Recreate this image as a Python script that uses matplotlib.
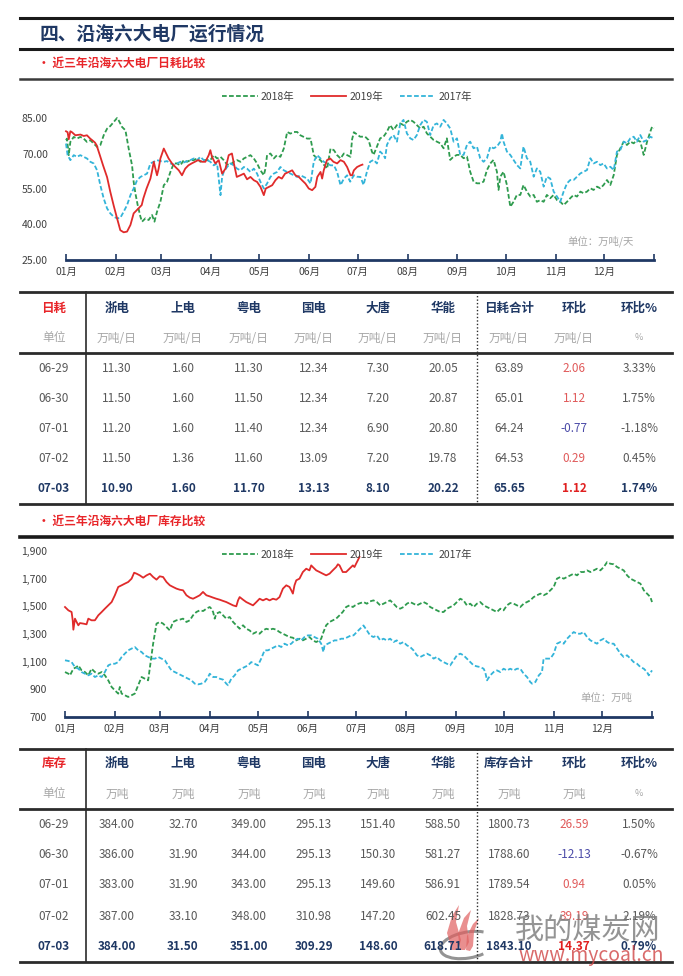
import matplotlib
matplotlib.use('Agg')
import matplotlib.pyplot as plt
from matplotlib.lines import Line2D
from matplotlib.patches import Arc, Polygon
from matplotlib.ticker import FuncFormatter

plt.rcParams['font.family'] = ['Noto Sans CJK SC', 'DejaVu Sans']

# ---------------- data ----------------
months = ['01月', '02月', '03月', '04月', '05月', '06月',
          '07月', '08月', '09月', '10月', '11月', '12月']
month_start = [0, 31, 59, 90, 120, 151, 181, 212, 243, 273, 304, 334]

# daily burn (万吨/天), (day of year, value)
burn_2019 = [(0, 79.4), (1, 79), (1.7, 76), (2.7, 79.4), (3.7, 79), (5.8, 77.7), (9, 78), (11, 77.4),
             (13, 77.7), (15, 76.3), (17, 75.2), (18, 74.6), (19, 73.5), (21, 69.3), (23, 65), (25.5, 60),
             (27.5, 53.8), (29.6, 48), (31.7, 42.6), (33.7, 37.6), (35.8, 36.7), (37.9, 37), (40, 39.8),
             (42, 44.7), (43, 45.4), (45, 46.8), (47, 48.2), (48, 51), (50, 55.2), (52.4, 59.4), (53.5, 62.9),
             (54.5, 66.5), (55.5, 63.6), (56.5, 60.8), (57.5, 63.6), (58.6, 67.9), (60.7, 72.1), (61.7, 70.7),
             (63.7, 67.9), (65.8, 65.8), (67.9, 64.3), (70, 62.9), (72, 60.8), (74, 63.6), (76, 65),
             (78, 65.8), (80, 66.5), (82, 67.2), (84.5, 66.5), (86.5, 66.5), (88.6, 69.3), (89.6, 71.4),
             (90.6, 68.6), (92.7, 65.8), (94.8, 67.2), (96.9, 61.5), (99, 63.6), (101, 69.3), (103, 70),
             (104, 66.5), (106, 60.1), (108.3, 60.8), (110.4, 61.5), (112.4, 59.1), (114.5, 60.1),
             (116.6, 58.7), (118.6, 58), (120.7, 55.9), (122.8, 52.4), (124, 55.2), (126, 55.9), (128, 56.6),
             (130, 58.7), (132, 60.1), (134, 59.4), (136, 61.5), (138.3, 62.2), (140.4, 62.9), (142.4, 60.8),
             (144.5, 60.1), (146.5, 58.7), (148.6, 57.3), (150.7, 55.2), (152.8, 54.5), (154.8, 55.9),
             (156, 60.1), (158, 62.2), (159, 59.4), (160, 62.9), (162, 67.2), (164, 67.9), (166, 66.5),
             (168.3, 65.8), (170.4, 67.2), (172.5, 66.5), (174.5, 64.3), (176.6, 60.8), (177.6, 60.8),
             (178.7, 62.9), (180.7, 64.3), (182.8, 65), (184, 65.3)]

burn_2018 = [(0, 75.6), (0.6, 76.3), (1.7, 69.3), (2.7, 74.9), (4.8, 77), (6.8, 76.3), (8.9, 77), (11, 76.3),
             (13, 74.9), (15.1, 75.6), (17.2, 74.2), (19.3, 72.8), (21.3, 73.5), (23.4, 77.7), (25.5, 80.5),
             (27.5, 81.6), (29.6, 83.3), (31.7, 85), (32.7, 84), (34.8, 81.2), (36.9, 79.8), (38.9, 72.1),
             (41, 65), (42, 58), (43.1, 53.1), (44.5, 48.2), (46.2, 43.3), (47.2, 41.2), (49.3, 42.6),
             (51.3, 41.9), (53.4, 44), (54.9, 41.2), (56.5, 45.4), (58.6, 49.6), (60.7, 56.6), (62.7, 58),
             (64.8, 62.2), (66.9, 65.8), (68.9, 65.8), (71, 65), (73.1, 67.2), (75.2, 66.5), (77.2, 67.2),
             (79.3, 67.2), (81.4, 67.9), (83.4, 66.5), (85.5, 67.2), (87.6, 67.2), (89.6, 67.2), (91.7, 69.3),
             (93.8, 67.9), (95.9, 68.6), (97.9, 67.2), (100, 65.3), (102.1, 65.3), (104.1, 66.5), (106.2, 67.2),
             (108.3, 66.5), (110.4, 67.9), (112.4, 68.6), (114.5, 69.3), (116.6, 67.9), (118.6, 65.8),
             (120.7, 62.9), (122.8, 60.8), (123.8, 63.6), (124.8, 69.3), (126.9, 70), (129, 67.9), (131, 69.3),
             (133.1, 68.6), (135.2, 72.1), (137.3, 79.1), (139.3, 78.4), (141.4, 79.1), (143.5, 79.1),
             (145.5, 77.7), (147.6, 77), (149.7, 76.3), (151.8, 76.3), (153.8, 69.3), (155.9, 67.9), (158, 67.2),
             (160, 65.3), (162.1, 63.6), (164.2, 72.1), (166.3, 71.4), (168.3, 69.3), (170.4, 67.9), (172.5, 70),
             (174.5, 69.3), (176.6, 68.6), (177.6, 76), (178.7, 79), (182.6, 77.1), (185.7, 77.1), (187.8, 75.7),
             (189.9, 70.8), (190.9, 69.4), (193, 72.9), (195, 76.4), (197.1, 77.1), (199.2, 79.2), (201.2, 82),
             (203.3, 79.9), (205.4, 82), (207.5, 82.7), (209.5, 82), (211.6, 83.4), (213.7, 84.2), (215.7, 83.4),
             (217.8, 82), (219.9, 80.6), (222, 81.3), (224, 78.5), (226.1, 77.1), (228.2, 75.7), (230.2, 75),
             (232.3, 74.3), (234.4, 72.2), (236.4, 76.4), (238.5, 67.3), (240.6, 68.7), (242.7, 69.4),
             (244.7, 69.4), (246.8, 68), (248.9, 68.7), (250.9, 62.3), (253, 58.1), (255.1, 57.4), (257.1, 57.4),
             (259.2, 58.1), (261.3, 63), (263.4, 65.8), (265.4, 67.3), (267.5, 62.3), (268.5, 54.6),
             (269.6, 60.2), (271.6, 62.3), (273.7, 56.7), (275.8, 47.5), (277.8, 49.6), (279.9, 52.5),
             (282, 52.5), (284, 56.7), (286.1, 53.9), (288.2, 51.8), (290.3, 52.5), (292.3, 49.6), (294.4, 50.3),
             (296.5, 49.6), (298.5, 52.5), (300.6, 51.1), (302.7, 52.5), (304.8, 50.3), (306.8, 49.6),
             (308.9, 48.2), (311, 49.6), (313, 51.1), (315.1, 52.5), (317.2, 51.8), (319.3, 53.9), (321.3, 53.2),
             (323.4, 53.9), (325.5, 55.3), (327.5, 54.6), (329.6, 56), (331.7, 55.3), (333.7, 56.7),
             (335.8, 58.8), (337.9, 56.7), (340, 60.9), (342, 69.4), (344.1, 72.2), (346.2, 75), (348.2, 73.6),
             (350.3, 75), (352.4, 74.3), (354.4, 75.7), (356.5, 75), (358.6, 69.4), (360.7, 75), (362.7, 79.2),
             (363.8, 81.3), (364.8, 80.6)]

burn_2017 = [(0, 74.2), (1, 69.3), (2.7, 67.2), (4.8, 69.3), (6.8, 68.6), (8.9, 69.3), (11, 68.6), (13, 67.9),
             (15.1, 66.5), (17.2, 65.8), (19.3, 62.9), (21.3, 56.6), (23.4, 51), (25.5, 46.8), (27.5, 44.7),
             (29.6, 43.3), (31.7, 42.6), (33.7, 42.8), (35.8, 45.4), (37.9, 48.2), (40, 52.4), (42, 55.2),
             (44.1, 58.7), (46.2, 60.1), (48.2, 60.8), (50.3, 61.5), (52.4, 65.8), (54.5, 66.5), (56.5, 67.2),
             (58.6, 66.8), (60.7, 66.5), (62.7, 66.8), (64.8, 65.8), (66.9, 65.3), (68.9, 65.8), (71, 66.5),
             (73.1, 66.2), (75.2, 66.8), (77.2, 67.2), (79.3, 67.9), (81.4, 67.2), (83.4, 68.6), (85.5, 67.2),
             (87.6, 67.2), (89.6, 66.5), (91.7, 65), (93.8, 65.8), (94.8, 59.4), (95.9, 52.4), (96.9, 60.1),
             (97.9, 62.2), (100, 64.3), (102.1, 65.8), (104.1, 65), (106.2, 63.6), (108.3, 62.9), (110.4, 64.3),
             (112.4, 63.6), (114.5, 62.2), (116.6, 63.6), (118.6, 61.5), (120.7, 58), (122.8, 55.2),
             (124.8, 57.3), (126.9, 60.1), (129, 61.5), (131, 62.2), (133.1, 64.3), (135.2, 62.9), (137.3, 62.2),
             (139.3, 61.5), (141.4, 60.8), (143.5, 60.1), (145.5, 60.8), (147.6, 60.1), (149.7, 59.4),
             (151.8, 57.3), (153.8, 66.5), (155.9, 69.3), (158, 67.9), (160, 66.5), (162.1, 65.8), (164.2, 65),
             (166.3, 65), (168.3, 62.2), (170.4, 56.6), (172.5, 59.4), (174.5, 60.8), (176.4, 58.1),
             (178.7, 60.8), (180.5, 60.2), (182.8, 60.1), (184.7, 56.7), (186.8, 62.3), (188.8, 66.5),
             (190.9, 67.3), (193, 65.8), (195, 70.8), (197.1, 69.4), (198.1, 68), (199.2, 73.6), (201.2, 76.4),
             (203.3, 77.8), (205.4, 75), (207.5, 82.7), (209.5, 84.2), (211.6, 78.5), (213.7, 76.4),
             (215.7, 75.7), (217.8, 77.8), (219.9, 82), (222, 84.2), (224, 83.4), (226.1, 77.8), (228.2, 82),
             (230.2, 82.7), (232.3, 81.3), (234.4, 84.2), (236.4, 82.7), (238.5, 80.6), (240.6, 75),
             (242.7, 76.4), (244.7, 69.4), (246.8, 69.4), (248.9, 73.6), (250.9, 75), (253, 72.2), (255.1, 72.9),
             (257.1, 68), (259.2, 66.5), (261.3, 68), (263.4, 72.9), (265.4, 72.2), (267.5, 72.9), (269.6, 75),
             (270.6, 78.5), (271.6, 75), (273.7, 70.8), (275.8, 69.4), (277.8, 67.3), (279.9, 65.1),
             (282, 63.7), (284, 72.9), (286.1, 68), (288.2, 66.5), (290.3, 60.2), (292.3, 63.7), (294.4, 62.3),
             (296.5, 56), (298.5, 60.2), (300.6, 59.4), (302.7, 53.9), (304.8, 51.8), (306.8, 49.6),
             (308.9, 53.9), (311, 57.4), (313, 58.8), (315.1, 58.8), (317.2, 60.2), (319.3, 61.6), (321.3, 62.3),
             (323.4, 63), (325.5, 68), (327.5, 65.8), (329.6, 66.5), (331.7, 65.1), (333.7, 65.8), (335.8, 63.7),
             (337.9, 64.4), (340, 63), (342, 70.8), (344.1, 71.5), (346.2, 75), (348.2, 74.3), (350.3, 76.4),
             (352.4, 77.1), (354.4, 75), (356.5, 77.8), (358.6, 75), (360.7, 75.7), (362.7, 77.1), (364.8, 76.4)]

# stock (万吨), (day of year, value)
stock_2019 = [(0, 1495), (2.1, 1471), (4.1, 1459), (4.8, 1399), (5.2, 1331), (6.2, 1411), (7.2, 1387),
              (8.3, 1363), (9.3, 1379), (11.4, 1375), (13.4, 1370), (14.5, 1411), (16.5, 1399), (18.6, 1399),
              (20.7, 1435), (22.8, 1459), (24.8, 1483), (26.9, 1507), (29, 1531), (31, 1580), (33.1, 1640),
              (35.2, 1652), (37.2, 1664), (39.3, 1676), (41.4, 1700), (43, 1743), (44.5, 1736), (46.5, 1724),
              (48.6, 1707), (50.7, 1724), (52.8, 1736), (54.8, 1712), (56.9, 1693), (58.9, 1717), (61, 1712),
              (63.1, 1676), (65.2, 1652), (67.2, 1640), (69.3, 1628), (71.4, 1620), (73.4, 1616), (75.5, 1580),
              (77.6, 1563), (79.6, 1555), (81.7, 1567), (83.8, 1580), (85.8, 1604), (87.9, 1580), (90, 1572),
              (92.1, 1563), (94.1, 1555), (96.2, 1548), (98.3, 1539), (100.3, 1531), (102.4, 1519),
              (104.5, 1507), (106.5, 1500), (107.6, 1543), (108.6, 1567), (110.7, 1548), (112.7, 1531),
              (114.8, 1519), (116.9, 1507), (119, 1531), (121, 1555), (123.1, 1543), (125.2, 1555), (127.2, 1543),
              (129.3, 1555), (131.4, 1548), (133.4, 1567), (135.5, 1628), (137.6, 1652), (139.6, 1640),
              (140.7, 1616), (141.7, 1592), (142.7, 1652), (143.8, 1688), (145.8, 1700), (147.9, 1748),
              (150, 1772), (152, 1760), (153.1, 1796), (154.1, 1784), (156.2, 1760), (158.3, 1748), (160.3, 1736),
              (162.4, 1724), (164.5, 1736), (166.5, 1760), (168.6, 1784), (169.7, 1804), (170.7, 1796),
              (172.7, 1748), (174.8, 1748), (176.9, 1772), (179, 1796), (180, 1784), (181, 1808), (182.1, 1833),
              (183.1, 1857)]

stock_2018 = [(0, 1025), (2.1, 1013), (3.1, 1001), (5.2, 1049), (7.2, 1061), (8.3, 1073), (10.3, 1037),
              (12.4, 1025), (14.5, 1001), (16.5, 1049), (18.6, 1025), (20.7, 1013), (22.8, 1025), (24.8, 1001),
              (26.9, 965), (29, 917), (31, 893), (33.1, 869), (34.1, 917), (35.2, 869), (37.2, 857), (39.3, 845),
              (41.4, 857), (43.4, 869), (45.5, 929), (47.6, 989), (49.6, 977), (51.7, 965), (52.8, 1061),
              (54.8, 1230), (56.9, 1375), (59, 1387), (61, 1375), (63.1, 1350), (65.2, 1326), (67.2, 1387),
              (69.3, 1399), (71.4, 1404), (73.4, 1411), (75.5, 1387), (77.6, 1399), (79.6, 1435), (81.7, 1459),
              (83.8, 1471), (85.9, 1466), (87.9, 1483), (90, 1495), (91, 1483), (92.1, 1459), (93.1, 1411),
              (94.1, 1447), (96.2, 1459), (98.3, 1435), (100.3, 1411), (102.4, 1423), (104.5, 1387),
              (106.5, 1363), (108.6, 1338), (110.7, 1363), (112.7, 1338), (114.8, 1326), (116.9, 1302),
              (119, 1314), (121, 1302), (123.1, 1326), (125.2, 1338), (127.2, 1331), (129.3, 1338), (131.4, 1331),
              (133.4, 1314), (135.5, 1302), (137.6, 1290), (139.6, 1278), (141.7, 1273), (143.8, 1254),
              (145.8, 1266), (147.9, 1254), (150, 1266), (152, 1278), (154.1, 1254), (156.2, 1242), (158.3, 1254),
              (159.3, 1266), (160.3, 1302), (162.4, 1363), (164.5, 1387), (166.5, 1399), (168.6, 1411),
              (170.7, 1435), (172.7, 1459), (174.8, 1495), (176.9, 1507), (179, 1495), (180.4, 1507),
              (182.5, 1519), (185.6, 1531), (187.7, 1519), (189.7, 1536), (191.8, 1543), (193.9, 1531),
              (196, 1507), (198, 1519), (200.1, 1531), (202.2, 1543), (204.3, 1519), (206.3, 1495), (208.4, 1483),
              (210.5, 1495), (212.6, 1519), (214.6, 1531), (216.7, 1519), (218.8, 1507), (220.9, 1519),
              (222.9, 1531), (225, 1519), (227.1, 1495), (229.2, 1483), (231.2, 1471), (233.3, 1459),
              (235.4, 1459), (237.5, 1483), (239.5, 1495), (241.6, 1507), (243.7, 1531), (245.8, 1555),
              (247.8, 1543), (249.9, 1507), (252, 1519), (254.1, 1495), (256.1, 1519), (258.2, 1531),
              (260.3, 1507), (262.4, 1495), (264.4, 1483), (266.5, 1471), (268.6, 1459), (270.7, 1483),
              (272.7, 1471), (274.8, 1507), (276.9, 1524), (279, 1519), (281, 1507), (283.1, 1495), (285.2, 1519),
              (287.3, 1531), (289.3, 1543), (291.4, 1567), (293.5, 1580), (295.6, 1592), (297.6, 1580),
              (299.7, 1592), (301.8, 1616), (303.9, 1640), (305.9, 1700), (308, 1712), (310.1, 1700),
              (312.2, 1712), (314.2, 1724), (316.3, 1736), (318.4, 1724), (320.5, 1748), (322.5, 1748),
              (324.6, 1760), (326.7, 1748), (328.8, 1760), (330.8, 1772), (332.9, 1760), (335, 1784),
              (337.1, 1820), (339.1, 1808), (341.2, 1804), (343.3, 1784), (345.4, 1772), (347.4, 1760),
              (349.5, 1724), (351.6, 1700), (353.6, 1688), (355.7, 1676), (357.8, 1664), (359.9, 1616),
              (361.9, 1592), (364, 1567), (365, 1531)]

stock_2017 = [(0, 1110), (2.1, 1105), (4.1, 1097), (6.2, 1061), (8.3, 1049), (10.3, 1025), (12.4, 1013),
              (14.5, 1001), (16.5, 1013), (18.6, 989), (20.7, 1001), (22.8, 989), (24.8, 1025), (26.9, 1073),
              (29, 1085), (31, 1085), (33.1, 1097), (35.2, 1133), (37.2, 1158), (39.3, 1182), (41.4, 1194),
              (43.4, 1206), (45.5, 1182), (47.6, 1170), (49.6, 1146), (51.7, 1134), (53.8, 1122), (55.9, 1122),
              (57.9, 1134), (60, 1122), (62.1, 1110), (64.1, 1073), (66.2, 1037), (68.3, 1025), (70.3, 1013),
              (72.4, 1001), (74.5, 989), (76.5, 977), (78.6, 965), (80.7, 941), (82.8, 936), (84.8, 941),
              (86.9, 953), (89, 989), (90, 1013), (92.1, 989), (94.1, 989), (96.2, 977), (98.3, 970),
              (100.3, 941), (101.4, 929), (103.4, 977), (105.5, 1001), (107.6, 1037), (109.6, 1049),
              (111.7, 1061), (113.8, 1073), (115.8, 1097), (117.9, 1085), (120, 1073), (122, 1122), (124.1, 1182),
              (126.2, 1182), (128.3, 1194), (130.3, 1206), (132.4, 1218), (134.5, 1206), (136.5, 1230),
              (138.6, 1218), (140.7, 1230), (142.7, 1254), (144.8, 1266), (146.9, 1254), (148.9, 1278),
              (151, 1290), (153.1, 1290), (155.1, 1278), (157.2, 1266), (159.3, 1230), (160.7, 1170),
              (161.4, 1218), (163.4, 1230), (165.5, 1242), (167.6, 1254), (169.6, 1254), (171.7, 1266),
              (173.8, 1266), (175.8, 1278), (177.9, 1290), (179.4, 1290), (181.4, 1314), (183.5, 1338),
              (185.6, 1362), (187.7, 1326), (189.7, 1290), (191.8, 1278), (193.9, 1290), (196, 1254), (198, 1266),
              (200.1, 1254), (202.2, 1266), (204.3, 1242), (206.3, 1254), (208.4, 1230), (210.5, 1242),
              (212.6, 1218), (214.6, 1206), (216.7, 1182), (218.8, 1146), (220.9, 1134), (222.9, 1146),
              (225, 1158), (227.1, 1146), (229.2, 1122), (231.2, 1134), (233.3, 1110), (235.4, 1097),
              (237.5, 1085), (239.5, 1073), (241.6, 1110), (243.7, 1146), (245.8, 1158), (247.8, 1146),
              (249.9, 1122), (252, 1097), (254.1, 1073), (256.1, 1066), (258.2, 1061), (260.3, 1049),
              (261.3, 1025), (262.4, 965), (264.4, 1001), (266.5, 1025), (268.6, 1037), (270.7, 1025),
              (272.7, 1049), (274.8, 1037), (276.9, 1049), (279, 1037), (281, 1049), (283.1, 1049), (285.2, 1013),
              (287.3, 989), (289.3, 953), (290.4, 941), (292.5, 953), (294.6, 1001), (296.6, 1025), (297.6, 1122),
              (299.7, 1122), (301.8, 1122), (303.9, 1158), (305.9, 1230), (308, 1242), (310.1, 1230),
              (312.2, 1266), (314.2, 1290), (316.3, 1314), (318.4, 1302), (320.5, 1302), (322.5, 1314),
              (324.6, 1278), (326.7, 1254), (328.8, 1242), (330.8, 1230), (332.9, 1254), (335, 1266),
              (337.1, 1242), (339.1, 1230), (341.2, 1230), (343.3, 1194), (345.4, 1158), (347.4, 1134),
              (349.5, 1146), (351.6, 1122), (353.6, 1097), (355.7, 1085), (357.8, 1061), (359.9, 1049),
              (361.9, 1025), (363, 1001), (365, 1037)]

# tables
plants = ['浙电', '上电', '粤电', '国电', '大唐', '华能']
dates = ['06-29', '06-30', '07-01', '07-02', '07-03']

burn_plants = [[11.30, 11.50, 11.20, 11.50, 10.90],
               [1.60, 1.60, 1.60, 1.36, 1.60],
               [11.30, 11.50, 11.40, 11.60, 11.70],
               [12.34, 12.34, 12.34, 13.09, 13.13],
               [7.30, 7.20, 6.90, 7.20, 8.10],
               [20.05, 20.87, 20.80, 19.78, 20.22]]
burn_total = [63.89, 65.01, 64.24, 64.53, 65.65]
burn_chg = [2.06, 1.12, -0.77, 0.29, 1.12]
burn_pct = [3.33, 1.75, -1.18, 0.45, 1.74]

stock_plants = [[384.00, 386.00, 383.00, 387.00, 384.00],
                [32.70, 31.90, 31.90, 33.10, 31.50],
                [349.00, 344.00, 343.00, 348.00, 351.00],
                [295.13, 295.13, 295.13, 310.98, 309.29],
                [151.40, 150.30, 149.60, 147.20, 148.60],
                [588.50, 581.27, 586.91, 602.45, 618.71]]
stock_total = [1800.73, 1788.60, 1789.54, 1828.73, 1843.10]
stock_chg = [26.59, -12.13, 0.94, 39.19, 14.37]
stock_pct = [1.50, -0.67, 0.05, 2.19, 0.79]

# ---------------- style ----------------
W, H = 683, 976
NAVY = '#1F3864'
RED = '#E8262A'
GREEN = '#2E9B4E'
CYAN = '#33B4D9'
LINE_RED = '#E02B2B'
GRAY = '#595959'
LIGHT = '#A6A6A6'

fig = plt.figure(figsize=(W / 100, H / 100), dpi=100)


def fx(px):
    return px / W


def fy(py):
    return 1 - py / H


def hline(y, x0=20, x1=672, lw=2.0, color='#2b2b2b', ls='-'):
    fig.add_artist(Line2D([fx(x0), fx(x1)], [fy(y), fy(y)], transform=fig.transFigure,
                          lw=lw, color=color, ls=ls))


def vline(x, y0, y1, lw=1.2, color='#2b2b2b', ls='-'):
    fig.add_artist(Line2D([fx(x), fx(x)], [fy(y0), fy(y1)], transform=fig.transFigure,
                          lw=lw, color=color, ls=ls))


def text(x, y, s, **kw):
    kw.setdefault('ha', 'center')
    kw.setdefault('va', 'center')
    fig.text(fx(x), fy(y), s, **kw)


def draw_chart(box, ylim, yticks, yfmt, s18, s19, s17, legend_y, unit, unit_pos):
    left, top, right, bottom = box
    ax = fig.add_axes([fx(left), fy(bottom), fx(right) - fx(left), fy(top) - fy(bottom)])
    dash = (0, (2.6, 1.3))
    h18, = ax.plot(*zip(*s18), color=GREEN, lw=1.3, ls=dash, clip_on=False)
    h17, = ax.plot(*zip(*s17), color=CYAN, lw=1.3, ls=dash, clip_on=False)
    h19, = ax.plot(*zip(*s19), color=LINE_RED, lw=1.3, clip_on=False)
    ax.set_xlim(0, 365)
    ax.set_ylim(*ylim)
    ax.set_yticks(yticks)
    ax.yaxis.set_major_formatter(FuncFormatter(yfmt))
    ax.set_xticks(month_start)
    ax.set_xticklabels(months)
    ax.set_xticks([365], minor=True)
    for sp in ['top', 'right', 'left']:
        ax.spines[sp].set_visible(False)
    ax.spines['bottom'].set_color(NAVY)
    ax.spines['bottom'].set_linewidth(2)
    ax.tick_params(axis='x', which='both', direction='in', length=4, width=1.2, color=NAVY,
                   labelsize=7.5, labelcolor='#404040', pad=5)
    ax.tick_params(axis='y', length=0, labelsize=7.5, labelcolor='#404040', pad=13)
    ax.patch.set_alpha(0)
    ax.legend([h18, h19, h17], ['2018年', '2019年', '2017年'], loc='center', ncol=3,
              bbox_to_anchor=(fx(347), fy(legend_y)), bbox_transform=fig.transFigure,
              frameon=False, fontsize=7.5, handlelength=3.4, handletextpad=0.3,
              columnspacing=1.6, labelcolor='#404040')
    text(unit_pos[0], unit_pos[1], unit, fontsize=7.5, color=LIGHT)
    return ax


def fmt_num(v):
    return '%.2f' % v


def draw_table(top, head_y, unit_y, mid, row_y, bottom, first_head, unit_txt, total_head,
               plant_vals, total, chg, pct):
    cols = [54, 117, 183, 249, 314, 378, 443, 509, 574, 639]
    hline(top, lw=2.0)
    hline(mid, lw=2.0)
    hline(bottom, lw=2.0)
    vline(86, top, bottom, lw=1.2)
    vline(477, top, bottom, lw=1.0, ls=(0, (1, 1.5)))
    heads = plants + [total_head, '环比', '环比%']
    text(cols[0], head_y, first_head, fontsize=9, color=RED, fontweight='bold')
    for x, h in zip(cols[1:], heads):
        text(x, head_y, h, fontsize=9, color=NAVY, fontweight='bold')
    text(cols[0], unit_y, '单位', fontsize=8.5, color=LIGHT)
    for x in cols[1:-1]:
        text(x, unit_y, unit_txt, fontsize=8.5, color=LIGHT)
    text(cols[-1], unit_y, '%', fontsize=6.5, color=LIGHT)
    for i, y in enumerate(row_y):
        last = i == len(row_y) - 1
        base = dict(fontsize=8.5, color=NAVY if last else GRAY,
                    fontweight='bold' if last else 'normal')
        text(cols[0], y, dates[i], **base)
        for j, vals in enumerate(plant_vals):
            text(cols[j + 1], y, fmt_num(vals[i]), **base)
        text(cols[7], y, fmt_num(total[i]), **base)
        c = chg[i]
        if last:
            ccol = '#E02020'
        else:
            ccol = '#E05A5A' if c >= 0 else '#4B4BA8'
        text(cols[8], y, fmt_num(c), fontsize=8.5, color=ccol,
             fontweight='bold' if last else 'normal')
        text(cols[9], y, '%.2f%%' % pct[i], **base)


# ---------------- header ----------------
hline(18, lw=2.2, color='#1a1a1a')
text(40, 34, '四、沿海六大电厂运行情况', ha='left', fontsize=13.5, color=NAVY, fontweight='bold')
hline(49, lw=2.2, color='#1a1a1a')
text(38, 63, '• 近三年沿海六大电厂日耗比较', ha='left', fontsize=8.5, color=RED, fontweight='bold')
hline(79, lw=1.8, color='#3a3a3a')

draw_chart((66, 118, 654, 260), (25, 85), [25, 40, 55, 70, 85],
           lambda v, p: '%.2f' % v, burn_2018, burn_2019, burn_2017, 97,
           '单位：万吨/天', (601, 241))

draw_table(292, 308, 338, 353, [368, 399, 429, 459, 489], 504, '日耗', '万吨/日', '日耗合计',
           burn_plants, burn_total, burn_chg, burn_pct)

text(38, 521, '• 近三年沿海六大电厂库存比较', ha='left', fontsize=8.5, color=RED, fontweight='bold')
hline(537, lw=2.6, color='#1a1a1a')

draw_chart((65, 551, 652, 717), (700, 1900), [700, 900, 1100, 1300, 1500, 1700, 1900],
           lambda v, p: '{:,.0f}'.format(v), stock_2018, stock_2019, stock_2017, 555,
           '单位：万吨', (606, 698))

draw_table(749, 763, 794, 809, [825, 855, 885, 916, 946], 962, '库存', '万吨', '库存合计',
           stock_plants, stock_total, stock_chg, stock_pct)

# watermark (logo + site name), drawn on a pixel-space overlay
wm = fig.add_axes([0, 0, 1, 1])
wm.set_xlim(0, W)
wm.set_ylim(H, 0)
wm.axis('off')
wm.add_patch(Arc((468, 945), 56, 26, angle=-10, theta1=40, theta2=330,
                 color='#707070', lw=2.2, alpha=0.75))
flames = [[(452, 950), (447, 933), (452, 916), (459, 905), (456, 922), (461, 940), (458, 950)],
          [(460, 950), (458, 934), (464, 918), (471, 910), (467, 926), (469, 942), (465, 950)],
          [(466, 950), (467, 936), (473, 924), (479, 918), (474, 932), (473, 946), (470, 951)]]
for pts in flames:
    wm.add_patch(Polygon(pts, closed=True, fc='#E06060', ec='none', alpha=0.7))
text(588, 932, '我的煤炭网', fontsize=21, color='#7a7a7a', alpha=0.8)
text(591, 955, 'www.mycoal.cn', fontsize=14, color='#D04545', alpha=0.8)

fig.savefig('out.png', dpi=100)
